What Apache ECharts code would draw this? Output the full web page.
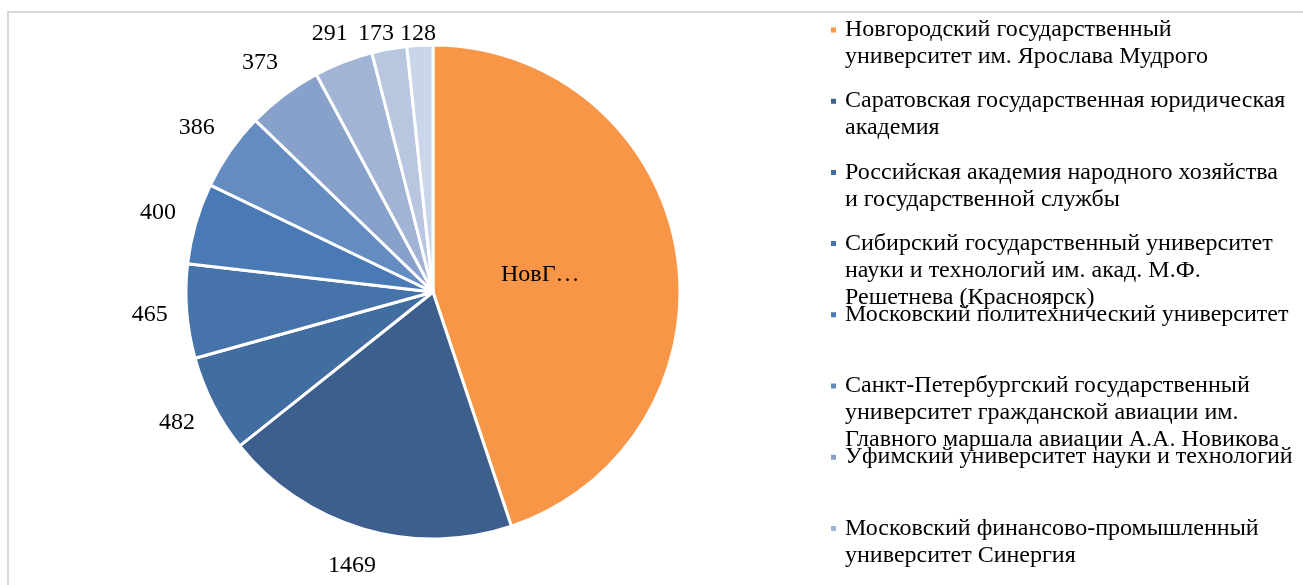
<!DOCTYPE html>
<html>
<head>
<meta charset="utf-8">
<script src="https://cdn.jsdelivr.net/npm/echarts@6/dist/echarts.min.js"></script>
<style>
  html, body { margin: 0; padding: 0; background: #fff; }
  #chart { width: 1303px; height: 585px; }
</style>
</head>
<body>
<div id="chart"></div>
<script>
// вузы (первые 8 видны в легенде, последние 2 обрезаны)
const universities = [
  "Новгородский государственный\nуниверситет им. Ярослава Мудрого",
  "Саратовская государственная юридическая\nакадемия",
  "Российская академия народного хозяйства\nи государственной службы",
  "Сибирский государственный университет\nнауки и технологий им. акад. М.Ф.\nРешетнева (Красноярск)",
  "Московский политехнический университет",
  "Санкт-Петербургский государственный\nуниверситет гражданской авиации им.\nГлавного маршала авиации А.А. Новикова",
  "Уфимский университет науки и технологий",
  "Московский финансово-промышленный\nуниверситет Синергия",
  "Вуз 9",
  "Вуз 10"
];
// значения (первое оценено по углу сектора)
const values = [3390, 1469, 482, 465, 400, 386, 373, 291, 173, 128];
const colors = ["#F79646", "#3C5F8E", "#426DA0", "#4673AA", "#4A7AB6", "#658CC1",
                "#87A1CA", "#A1B4D5", "#B8C6E0", "#C9D5E9"];
const firstLabel = "НовГ…";

let myChart = echarts.init(document.getElementById("chart"));

const FONT = "'Liberation Serif', 'Times New Roman', serif";
const LH = 27;
const CX = 433, CY = 292, R = 247;
const total = values.reduce((a, b) => a + b, 0);

// заранее считаем места подписей: снаружи у края сектора, без наложений
let ctx = document.createElement("canvas").getContext("2d");
ctx.font = "24px " + FONT;
let labelPos = [];
let before = 0;
values.forEach((v, i) => {
  let mid = (before + v / 2) / total * Math.PI * 2;
  before += v;
  let dx = Math.sin(mid), dy = -Math.cos(mid);
  let text = i === 0 ? firstLabel : String(v);
  let hw = ctx.measureText(text).width / 2, hh = 14;
  let d = i === 0 ? R * 0.44 : R + 18 + Math.abs(dx) * hw + Math.abs(dy) * hh;
  labelPos.push({ x: CX + dx * d, y: Math.max(CY + dy * d, 20 + hh), hw: hw, hh: hh });
});
// сдвиг влево, если подписи сверху налезают друг на друга
for (let i = values.length - 2; i > 0; i--) {
  let a = labelPos[i], b = labelPos[i + 1];
  if (Math.abs(a.y - b.y) < a.hh + b.hh && a.x + a.hw + 6 > b.x - b.hw) {
    a.x = b.x - b.hw - 6 - a.hw;
  }
}

// легенда — отдельный блок на каждый вуз, шаг как в оригинале
// пустые строки сверху, чтобы маркер стоял у первой строки
let legends = [];
for (let i = 0; i < 8; i++) {
  let lines = universities[i].split("\n").length;
  let firstY = 30 + i * 71.2;
  legends.push({
    data: [universities[i]],
    left: 829,
    top: firstY - (2 * lines - 1) * LH / 2,
    padding: 0,
    itemWidth: 7,
    itemHeight: 7,
    icon: "rect",
    selectedMode: false,
    formatter: function (name) {
      return "\n".repeat(lines - 1) + name;
    },
    textStyle: {
      fontFamily: FONT,
      fontSize: 24,
      color: "#000",
      lineHeight: LH,
      padding: [0, 0, 0, 3],
    },
  });
}

myChart.setOption({
  animation: false,
  color: colors,
  legend: legends,
  graphic: [
    {
      type: "rect",
      shape: { x: 8, y: 12, width: 1400, height: 700 },
      style: { fill: "none", stroke: "#d9d9d9", lineWidth: 2 },
      silent: true,
    },
  ],
  series: [
    {
      type: "pie",
      center: [CX, CY],
      radius: R,
      clockwise: true,
      startAngle: 90,
      itemStyle: { borderColor: "#fff", borderWidth: 3 },
      label: {
        show: true,
        position: "outside",
        formatter: "{c}",
        fontFamily: FONT,
        fontSize: 24,
        color: "#000",
      },
      labelLine: { show: false },
      emphasis: { scale: false },
      labelLayout: function (p) {
        let pos = labelPos[p.dataIndex];
        return { x: pos.x, y: pos.y, align: "center", verticalAlign: "middle" };
      },
      data: values.map((v, i) => {
        let item = { name: universities[i], value: v };
        if (i === 0) {
          item.label = { position: "inside", formatter: firstLabel };
        }
        return item;
      }),
    },
  ],
});
</script>
</body>
</html>
